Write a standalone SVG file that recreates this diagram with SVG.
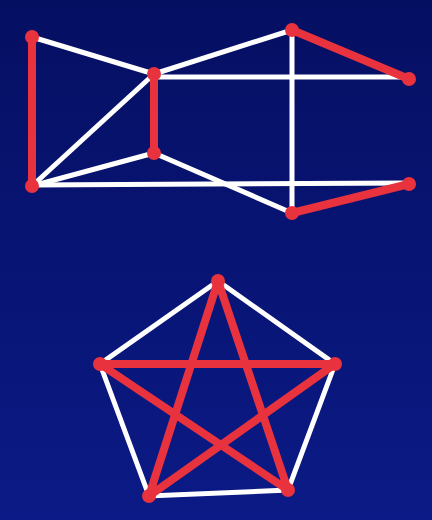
<svg xmlns="http://www.w3.org/2000/svg" width="432" height="520" viewBox="0 0 432 520">
<defs>
<linearGradient id="bg" x1="0" y1="0" x2="0" y2="1">
<stop offset="0" stop-color="#050f62"/>
<stop offset="1" stop-color="#0b1a86"/>
</linearGradient>
<style>
.w{stroke:#ffffff;stroke-width:5;fill:none}
.r{stroke:#e8333f;stroke-width:8;fill:none;stroke-linecap:round}
.n{fill:#e8333f}
</style>
</defs>
<rect width="432" height="520" fill="url(#bg)"/>
<g id="connectors">
<line class="w" x1="32" y1="37" x2="154" y2="74"/>
<line class="w" x1="154" y1="74" x2="32" y2="186"/>
<line class="w" x1="32" y1="186" x2="154" y2="153"/>
<line class="w" x1="32" y1="185" x2="409" y2="183"/>
<line class="w" x1="154" y1="77" x2="409" y2="77"/>
<line class="w" x1="154" y1="74" x2="292" y2="30"/>
<line class="w" x1="292" y1="30" x2="292" y2="213"/>
<line class="w" x1="154" y1="153" x2="292" y2="213"/>
<line class="r" x1="32" y1="37" x2="32" y2="186"/>
<line class="r" x1="154" y1="74" x2="154" y2="153"/>
<line class="r" x1="292" y1="30" x2="409" y2="79"/>
<line class="r" x1="292" y1="213" x2="409" y2="184"/>
<polygon class="w" points="218,281 335,364 288,490 149,496 100,364"/>
<polygon class="r" points="218,281 288,490 100,364 335,364 149,496" stroke-linejoin="round"/>
</g>
<g id="n1"><circle class="n" cx="32" cy="37" r="7"/></g>
<g id="n2"><circle class="n" cx="154" cy="74" r="7"/></g>
<g id="n3"><circle class="n" cx="154" cy="153" r="7"/></g>
<g id="n4"><circle class="n" cx="32" cy="186" r="7"/></g>
<g id="n5"><circle class="n" cx="292" cy="30" r="7"/></g>
<g id="n6"><circle class="n" cx="409" cy="79" r="7"/></g>
<g id="n7"><circle class="n" cx="409" cy="184" r="7"/></g>
<g id="n8"><circle class="n" cx="292" cy="213" r="7"/></g>
<g id="p1"><circle class="n" cx="218" cy="281" r="7"/></g>
<g id="p2"><circle class="n" cx="100" cy="364" r="7"/></g>
<g id="p3"><circle class="n" cx="335" cy="364" r="7"/></g>
<g id="p4"><circle class="n" cx="149" cy="496" r="7"/></g>
<g id="p5"><circle class="n" cx="288" cy="490" r="7"/></g>
</svg>
